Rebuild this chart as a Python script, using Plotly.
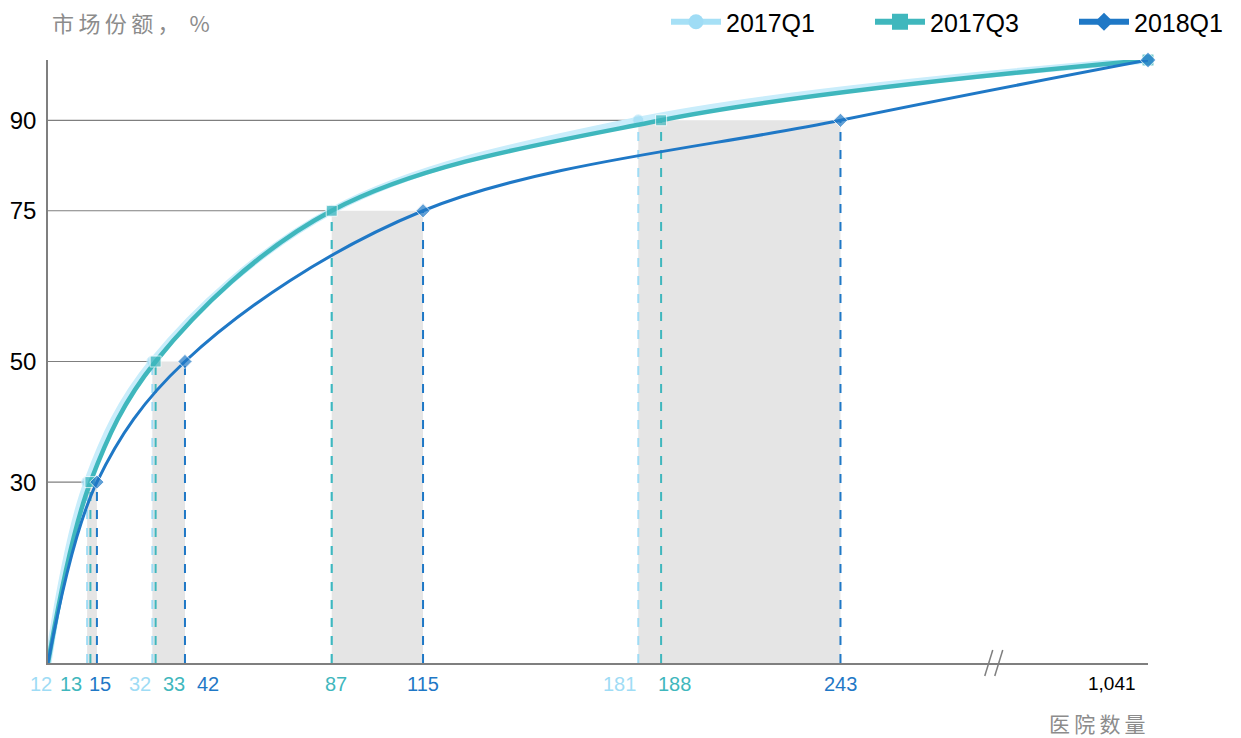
import plotly.graph_objects as go

# ---------------- data ----------------
levels = [30, 50, 75, 90]            # market-share thresholds, %
series_names = ["2017Q1", "2017Q3", "2018Q1"]
q1_counts = [12, 32, 87, 181]        # hospitals needed to reach each level
q3_counts = [13, 33, 87, 188]
q18_counts = [15, 42, 115, 243]
total_hospitals = 1041
y_ticks = [30, 50, 75, 90]
title_text = "市场份额，%"
xaxis_text = "医院数量"

# ---------------- style ----------------
colors = ["#9fdcf5", "#3fb7bd", "#1f78c6"]
line_colors = ["#c9edfb", "#3fb7bd", "#1f78c6"]
legend_line_colors = ["#a6e0f6", "#3fb7bd", "#1f78c6"]
line_widths = [7, 4.5, 3]
symbols = ["circle", "square", "diamond"]
legend_marker_sizes = [15, 16, 14]
AXIS_END = 337.3      # axis position used for the broken-axis total
BREAK_AT = 290        # where the "//" break mark sits
PX = 3.261            # pixels per axis unit (for small pixel offsets)
PLOT_H = 603          # plot-area height in pixels
label_shift = {  # pixel offsets of tick labels so they don't overlap
    (0, 12): -46, (1, 13): -19, (2, 15): 3,
    (0, 32): -12, (1, 33): 18, (2, 42): 23,
    (1, 87): 4, (2, 115): 0,
    (0, 181): -19, (1, 188): 13, (2, 243): 0,
}
GRID = "#7f7f7f"
SHADE = "#e5e5e5"
FONT = "Liberation Sans, Arial, sans-serif"
CJK = "Noto Sans CJK SC"
THIN = "\u2009"


def to_axis(v):
    return AXIS_END if v >= total_hospitals else v


def spaced(t):
    return THIN.join(t)


all_counts = [q1_counts, q3_counts, q18_counts]

fig = go.Figure()
shapes = []
annotations = []

# shaded bands and horizontal guide lines
for i, lvl in enumerate(levels):
    xs = [c[i] for c in all_counts]
    shapes.append(dict(type="rect", xref="x", yref="y", x0=min(xs), x1=max(xs),
                       y0=0, y1=lvl, fillcolor=SHADE, line=dict(width=0), layer="below"))
    shapes.append(dict(type="line", xref="x", yref="y", x0=0, x1=min(xs), y0=lvl, y1=lvl,
                       line=dict(color=GRID, width=1.2), layer="below"))

# dashed drop lines (Q1 first so later series sit on top)
for s, counts in enumerate(all_counts):
    for i, lvl in enumerate(levels):
        shapes.append(dict(type="line", xref="x", yref="y", x0=counts[i], x1=counts[i],
                           y0=0, y1=lvl, line=dict(color=colors[s], width=2, dash="dash"),
                           layer="below"))

# curves
for s, counts in enumerate(all_counts):
    xs = [0] + counts + [to_axis(total_hospitals)]
    ys = [0] + levels + [100]
    sizes = [0] + [11] * len(counts) + [12]
    fig.add_trace(go.Scatter(
        x=xs, y=ys, name=series_names[s], mode="lines+markers", showlegend=False,
        line=dict(color=line_colors[s], width=line_widths[s],
                  shape="spline", smoothing=1.0),
        marker=dict(symbol=symbols[s], size=sizes, color=colors[s]),
        cliponaxis=False,
    ))

# legend swatches (thick line + large marker, as in the original legend)
for s in range(3):
    fig.add_trace(go.Scatter(
        x=[None], y=[None], name=series_names[s], mode="lines+markers",
        line=dict(color=legend_line_colors[s], width=6),
        marker=dict(symbol=symbols[s], size=legend_marker_sizes[s], color=colors[s]),
    ))

# x tick labels
for s, counts in enumerate(all_counts):
    for v in counts:
        key = (s, v)
        if key not in label_shift:
            continue
        annotations.append(dict(x=v, y=0, xref="x", yref="y", text=str(v), showarrow=False,
                                yanchor="top", yshift=-8, xshift=label_shift[key],
                                font=dict(family=FONT, size=20, color=colors[s])))
annotations.append(dict(x=to_axis(total_hospitals), y=0, xref="x", yref="y",
                        text=f"{total_hospitals:,}", showarrow=False, yanchor="top",
                        yshift=-8, xshift=-36, font=dict(family=FONT, size=19, color="#000")))

# titles
annotations.append(dict(x=0.002, y=(663 - 22) / PLOT_H, xref="paper", yref="paper",
                        text=spaced(title_text[:5]) + "  " + title_text[5:],
                        showarrow=False, xanchor="left", yanchor="middle",
                        font=dict(family=CJK, size=22, color="#8c8c8c")))
annotations.append(dict(x=1, y=0, xref="paper", yref="paper", text=spaced(xaxis_text),
                        showarrow=False, xanchor="right", yanchor="middle", yshift=-60,
                        font=dict(family=CJK, size=21, color="#8c8c8c")))

# axis break mark "//"
for dx in (-5, 5):
    shapes.append(dict(type="line", xref="x", yref="paper",
                       x0=BREAK_AT + (dx - 4) / PX, x1=BREAK_AT + (dx + 4) / PX,
                       y0=-13 / PLOT_H, y1=13 / PLOT_H, line=dict(color=GRID, width=1.5)))

fig.update_layout(
    width=1241, height=738,
    margin=dict(l=48, r=93, t=60, b=75, autoexpand=False),
    paper_bgcolor="white", plot_bgcolor="white",
    font=dict(family=FONT, size=19, color="#000"),
    showlegend=True,
    legend=dict(orientation="h", xref="container", yref="container",
                x=666 / 1241, xanchor="left", y=1 - 22 / 738, yanchor="middle",
                font=dict(family=FONT, size=25, color="#000"),
                entrywidth=139, itemwidth=50, bgcolor="rgba(0,0,0,0)"),
    xaxis=dict(range=[0, AXIS_END], showgrid=False, zeroline=False, showticklabels=False,
               showline=True, linecolor=GRID, linewidth=1.5, ticks="", fixedrange=True),
    yaxis=dict(range=[0, 100], showgrid=False, zeroline=False, tickvals=y_ticks,
               showline=True, linecolor=GRID, linewidth=1.5, ticks="", fixedrange=True,
               tickfont=dict(family=FONT, size=24, color="#000"), ticklabelstandoff=5),
    shapes=shapes,
    annotations=annotations,
)

fig.write_html("out.html", config={"displayModeBar": False},
               post_script="document.body.style.margin='0';")
